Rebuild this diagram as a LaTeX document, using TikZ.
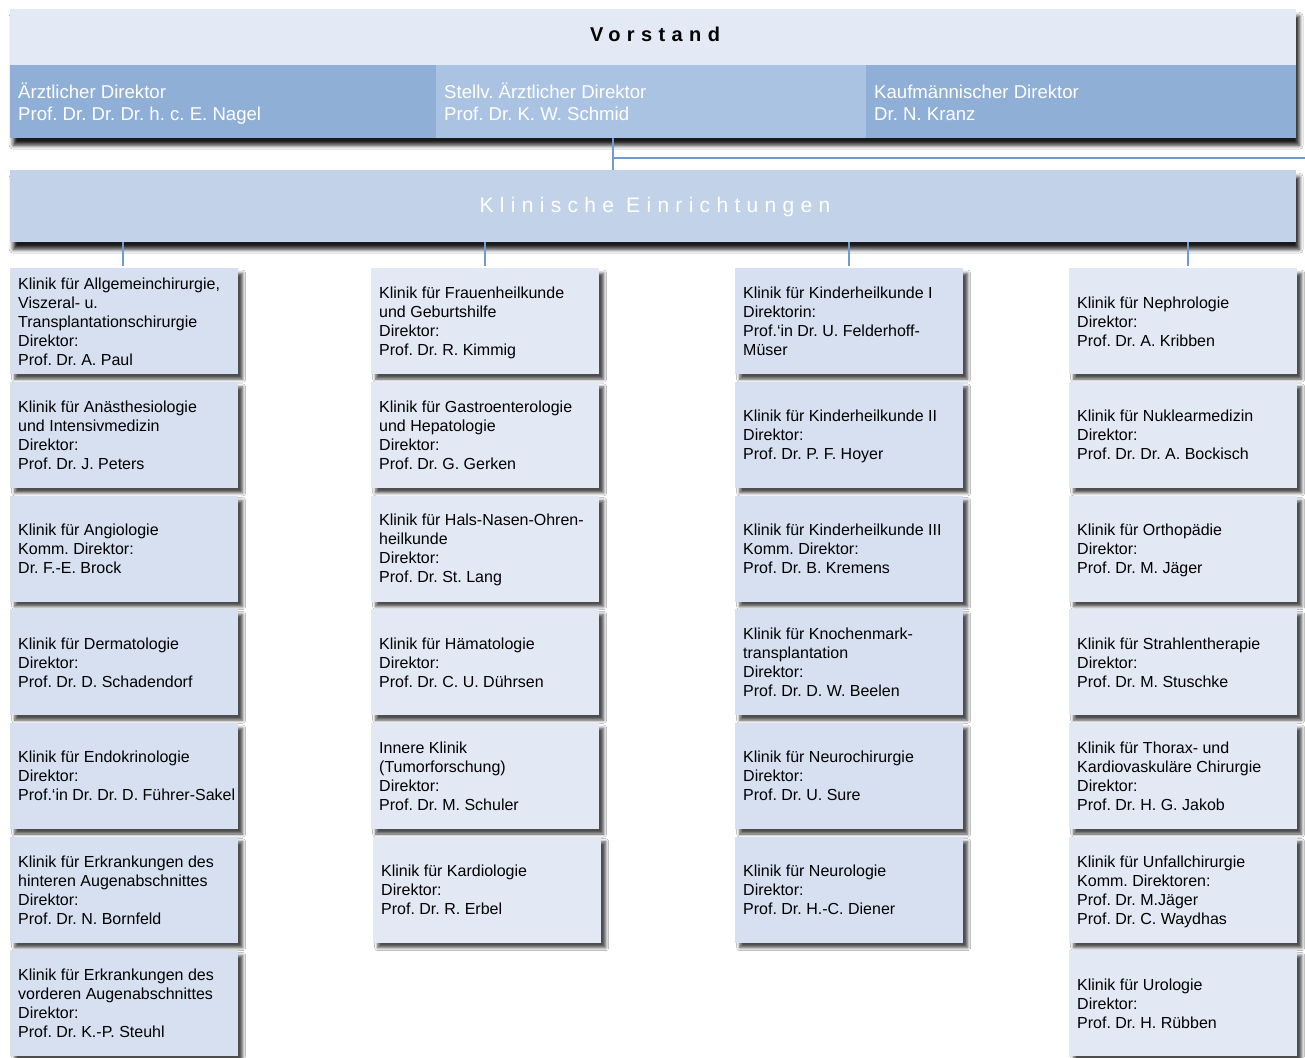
\documentclass[tikz,border=0pt]{standalone}
\usepackage{fontspec}
\setmainfont{Liberation Sans}
\usetikzlibrary{shadows.blur}
\definecolor{topbg}{HTML}{E3E9F5}
\definecolor{dirA}{HTML}{8FAFD7}
\definecolor{dirB}{HTML}{ABC3E2}
\definecolor{klin}{HTML}{C2D3E9}
\definecolor{lineblue}{HTML}{6F9BD2}
\definecolor{boxA}{HTML}{D6E0F0}
\definecolor{boxB}{HTML}{E2E8F4}
\frenchspacing
\tikzset{
  bigshadow/.style={blur shadow={shadow xshift=3pt, shadow yshift=-7pt, shadow blur radius=4pt, shadow opacity=90}},
  boxshadow/.style={blur shadow={shadow xshift=4.5pt, shadow yshift=-5pt, shadow blur radius=3pt, shadow opacity=70}},
  band/.style={rectangle, anchor=north west, inner sep=0pt, minimum width=1286pt},
  dirbox/.style={rectangle, anchor=north west, inner sep=0pt, minimum height=73pt},
  dirtext/.style={anchor=west, inner sep=0pt, text=white, font=\fontsize{18.6}{22}\selectfont},
  kbox/.style={rectangle, anchor=north west, inner sep=0pt, minimum width=228pt, minimum height=106pt, boxshadow},
  ktext/.style={anchor=west, inner sep=0pt, font=\fontsize{16}{19}\selectfont},
  conn/.style={draw=lineblue, line width=2pt},
}
\newcommand\lines[1]{\begin{tabular}{@{}l@{}}#1\end{tabular}}
\newcommand\klinikbox[5]{%
  \node[kbox, fill=#4] (#1) at (#2,#3) {};
  \node[ktext] (#1t) at ([xshift=8pt,yshift=-2pt]#1.west) {\lines{#5}};
}
\begin{document}
\begin{tikzpicture}[x=1pt,y=-1pt]
\useasboundingbox (0,0) rectangle (1305,1057);
\fill[white] (0,0) rectangle (1305,1057);

% Vorstand group
\node[band, minimum height=129pt, fill=topbg, bigshadow] (top) at (10,9) {};
\node[inner sep=0pt] (vorstand) at (655,34) {\fontsize{20}{24}\selectfont\bfseries\addfontfeature{LetterSpace=32}Vorstand};
\node[dirbox, minimum width=426pt, fill=dirA] (dir1) at (10,65) {};
\node[dirbox, minimum width=430pt, fill=dirB] (dir2) at (436,65) {};
\node[dirbox, minimum width=430pt, fill=dirA] (dir3) at (866,65) {};
\node[dirtext] (dir1t) at ([xshift=8pt,yshift=-3pt]dir1.west) {\lines{Ärztlicher Direktor\\Prof. Dr. Dr. Dr. h. c. E. Nagel}};
\node[dirtext] (dir2t) at ([xshift=8pt,yshift=-3pt]dir2.west) {\lines{Stellv. Ärztlicher Direktor\\Prof. Dr. K. W. Schmid}};
\node[dirtext] (dir3t) at ([xshift=8pt,yshift=-3pt]dir3.west) {\lines{Kaufmännischer Direktor\\Dr. N. Kranz}};

% Klinische Einrichtungen
\node[band, minimum height=72pt, fill=klin, bigshadow] (kl) at (10,170) {};
\node[inner sep=0pt, text=white] (klt) at (655,207) {\fontsize{21}{24}\selectfont\addfontfeature{LetterSpace=30}Klinische Einrichtungen};

% connector Vorstand -> Klinische
\coordinate (j) at (613,158);
\coordinate (edge) at (1305,158);
\draw[conn] (dir2.south -| j) -- (kl.north -| j);
\draw[conn] (j) -- (edge);

% Column 1
\klinikbox{a1}{10}{268}{boxA}{Klinik für Allgemeinchirurgie,\\Viszeral- u.\\Transplantationschirurgie\\Direktor:\\Prof. Dr. A. Paul}
\klinikbox{a2}{10}{381.7}{boxA}{Klinik für Anästhesiologie\\und Intensivmedizin\\Direktor:\\Prof. Dr. J. Peters}
\klinikbox{a3}{10}{495.4}{boxA}{Klinik für Angiologie\\Komm. Direktor:\\Dr. F.-E. Brock}
\klinikbox{a4}{10}{609.1}{boxA}{Klinik für Dermatologie\\Direktor:\\Prof. Dr. D. Schadendorf}
\klinikbox{a5}{10}{722.8}{boxA}{Klinik für Endokrinologie\\Direktor:\\Prof.‘in Dr. Dr. D. Führer-Sakel}
\klinikbox{a6}{10}{836.5}{boxA}{Klinik für Erkrankungen des\\hinteren Augenabschnittes\\Direktor:\\Prof. Dr. N. Bornfeld}
\klinikbox{a7}{10}{950.2}{boxA}{Klinik für Erkrankungen des\\vorderen Augenabschnittes\\Direktor:\\Prof. Dr. K.-P. Steuhl}

% Column 2
\klinikbox{b1}{371}{268}{boxB}{Klinik für Frauenheilkunde\\und Geburtshilfe\\Direktor:\\Prof. Dr. R. Kimmig}
\klinikbox{b2}{371}{381.7}{boxB}{Klinik für Gastroenterologie\\und Hepatologie\\Direktor:\\Prof. Dr. G. Gerken}
\klinikbox{b3}{371}{495.4}{boxB}{Klinik für Hals-Nasen-Ohren-\\heilkunde\\Direktor:\\Prof. Dr. St. Lang}
\klinikbox{b4}{371}{609.1}{boxB}{Klinik für Hämatologie\\Direktor:\\Prof. Dr. C. U. Dührsen}
\klinikbox{b5}{371}{722.8}{boxB}{Innere Klinik\\(Tumorforschung)\\Direktor:\\Prof. Dr. M. Schuler}
\klinikbox{b6}{373}{836.5}{boxB}{Klinik für Kardiologie\\Direktor:\\Prof. Dr. R. Erbel}

% Column 3
\klinikbox{c1}{735}{268}{boxA}{Klinik für Kinderheilkunde I\\Direktorin:\\Prof.‘in Dr. U. Felderhoff-\\Müser}
\klinikbox{c2}{735}{381.7}{boxA}{Klinik für Kinderheilkunde II\\Direktor:\\Prof. Dr. P. F. Hoyer}
\klinikbox{c3}{735}{495.4}{boxA}{Klinik für Kinderheilkunde III\\Komm. Direktor:\\Prof. Dr. B. Kremens}
\klinikbox{c4}{735}{609.1}{boxA}{Klinik für Knochenmark-\\transplantation\\Direktor:\\Prof. Dr. D. W. Beelen}
\klinikbox{c5}{735}{722.8}{boxA}{Klinik für Neurochirurgie\\Direktor:\\Prof. Dr. U. Sure}
\klinikbox{c6}{735}{836.5}{boxA}{Klinik für Neurologie\\Direktor:\\Prof. Dr. H.-C. Diener}

% Column 4
\klinikbox{d1}{1069}{268}{boxB}{Klinik für Nephrologie\\Direktor:\\Prof. Dr. A. Kribben}
\klinikbox{d2}{1069}{381.7}{boxB}{Klinik für Nuklearmedizin\\Direktor:\\Prof. Dr. Dr. A. Bockisch}
\klinikbox{d3}{1069}{495.4}{boxB}{Klinik für Orthopädie\\Direktor:\\Prof. Dr. M. Jäger}
\klinikbox{d4}{1069}{609.1}{boxB}{Klinik für Strahlentherapie\\Direktor:\\Prof. Dr. M. Stuschke}
\klinikbox{d5}{1069}{722.8}{boxB}{Klinik für Thorax- und\\Kardiovaskuläre Chirurgie\\Direktor:\\Prof. Dr. H. G. Jakob}
\klinikbox{d6}{1069}{836.5}{boxB}{Klinik für Unfallchirurgie\\Komm. Direktoren:\\Prof. Dr. M.Jäger\\Prof. Dr. C. Waydhas}
\klinikbox{d7}{1069}{950.2}{boxB}{Klinik für Urologie\\Direktor:\\Prof. Dr. H. Rübben}

% column connectors
\draw[conn] ([xshift=-1pt]a1.north |- kl.south) -- ([xshift=-1pt,yshift=2pt]a1.north);
\draw[conn] (b1.north |- kl.south) -- ([yshift=2pt]b1.north);
\draw[conn] (c1.north |- kl.south) -- ([yshift=2pt]c1.north);
\draw[conn] ([xshift=5pt]d1.north |- kl.south) -- ([xshift=5pt,yshift=2pt]d1.north);
\end{tikzpicture}
\end{document}
